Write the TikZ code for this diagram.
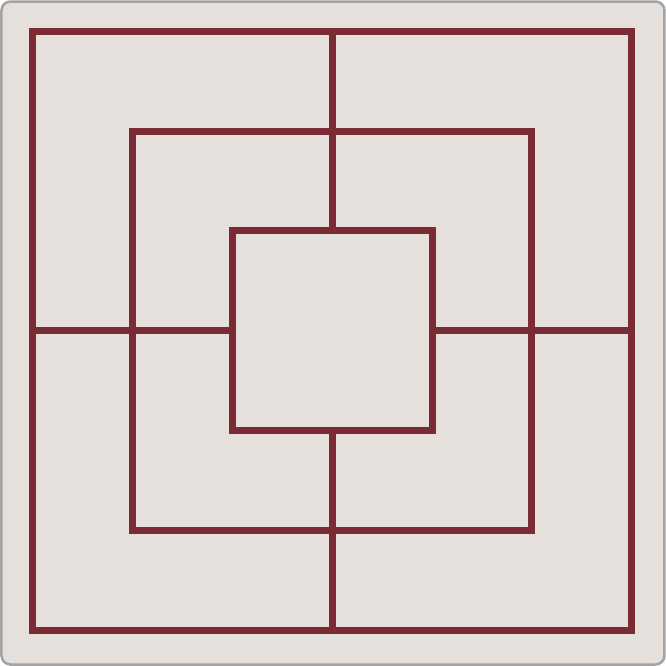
\documentclass[tikz,border=0pt]{standalone}
\usepackage{xcolor}
\usepackage{tikz}
\usetikzlibrary{calc}

\definecolor{linen}{HTML}{E6E0DC}
\definecolor{edge}{HTML}{A3A3A3}
\definecolor{wine}{HTML}{7A2B33}

\begin{document}
\begin{tikzpicture}[
  x=1cm, y=1cm,
  board/.style={draw=edge, line width=0.25mm, fill=linen, rounded corners=0.9mm},
  ring/.style={draw=wine, line width=0.7mm, line join=miter},
  spoke/.style={draw=wine, line width=0.7mm}
]
\useasboundingbox (0,0) rectangle (6.66,6.66);
\path[board] (0.015,0.015) rectangle (6.645,6.645);
\coordinate (c) at (3.32,3.35);
% three rings
\foreach \r in {1,2,3}
  \draw[ring] ($(c)+(-\r,-\r)$) rectangle ($(c)+(\r,\r)$);
% spokes between the rings
\draw[spoke] ($(c)+(0,1)$) -- ($(c)+(0,3)$);
\draw[spoke] ($(c)+(0,-1)$) -- ($(c)+(0,-3)$);
\draw[spoke] ($(c)+(1,0)$) -- ($(c)+(3,0)$);
\draw[spoke] ($(c)+(-1,0)$) -- ($(c)+(-3,0)$);
\end{tikzpicture}
\end{document}
